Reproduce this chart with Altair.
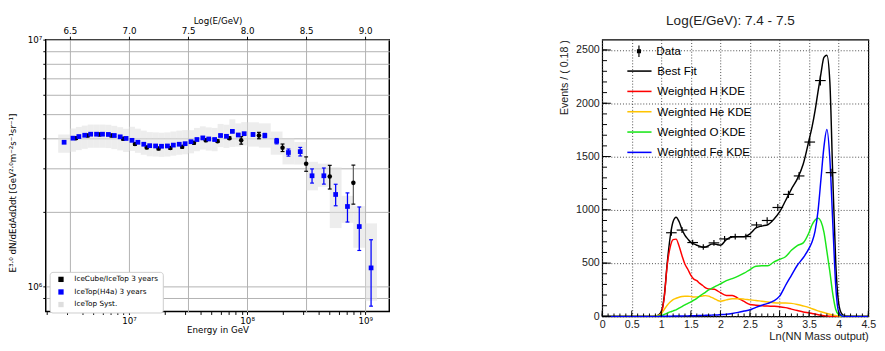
import altair as alt
import pandas as pd

# ================= LEFT PANEL: all-particle flux =================
blue_logE = [6.45, 6.525, 6.575, 6.625, 6.675, 6.725, 6.775, 6.825, 6.875, 6.925,
             6.975, 7.025, 7.075, 7.125, 7.175, 7.225, 7.275, 7.325, 7.375, 7.425,
             7.475, 7.525, 7.575, 7.625, 7.675, 7.725, 7.775, 7.825, 7.875, 7.925,
             7.975, 8.05, 8.15, 8.25, 8.35, 8.45, 8.55, 8.65, 8.75, 8.85, 8.95, 9.05]
blue_halfwidth = [0.05] + [0.025] * 30 + [0.05] * 11
blue_flux = [3.84e6, 3.99e6, 4.05e6, 4.10e6, 4.14e6, 4.14e6, 4.14e6, 4.13e6, 4.09e6, 4.04e6,
             3.98e6, 3.91e6, 3.84e6, 3.77e6, 3.72e6, 3.71e6, 3.70e6, 3.71e6, 3.74e6, 3.77e6,
             3.79e6, 3.86e6, 3.94e6, 4.00e6, 3.96e6, 3.94e6, 4.09e6, 4.06e6, 4.25e6, 4.11e6,
             4.16e6, 4.13e6, 4.09e6, 3.88e6, 3.49e6, 3.52e6, 2.81e6, 2.81e6, 2.36e6, 2.11e6,
             1.75e6, 1.19e6]
blue_stat = [0.01] * 31 + [0.015, 0.02, 0.025, 0.033, 0.04, 0.066, 0.075, 0.10, 0.135, 0.20, 0.30]
sys_up = ([0.075] + [0.094] * 10 + [0.135] * 10 +
          [0.114, 0.114, 0.114, 0.114, 0.114, 0.114, 0.114, 0.12, 0.114, 0.114] +
          [0.12, 0.12, 0.094, 0.142, 0.094, 0.139, 0.12, 0.288, 0.104, 0.209, 0.515])
sys_dn = ([0.094] + [0.119] * 10 + [0.094] * 10 +
          [0.103, 0.103, 0.103, 0.103, 0.103, 0.103, 0.103, 0.135, 0.103, 0.103] +
          [0.107, 0.107, 0.119, 0.105, 0.114, 0.127, 0.098, 0.269, 0.142, 0.180, 0.264])

black_logE = [6.55, 6.65, 6.75, 6.85, 6.95, 7.05, 7.15, 7.25, 7.35, 7.45,
              7.55, 7.65, 7.75, 7.85, 7.95, 8.1, 8.3, 8.5, 8.7, 8.9]
black_flux = [3.99e6, 4.09e6, 4.13e6, 4.09e6, 3.97e6, 3.78e6, 3.66e6, 3.62e6, 3.64e6, 3.68e6,
              3.82e6, 3.91e6, 3.88e6, 3.99e6, 3.91e6, 4.09e6, 3.65e6, 3.14e6, 2.79e6, 2.63e6]
black_stat = [0.012] * 14 + [0.035, 0.03, 0.035, 0.067, 0.11, 0.18]
black_bar_color = ["black"] * 17 + ["#666666", "black", "#666666"]

top_tick_logE = [6.5, 7.0, 7.5, 8.0, 8.5, 9.0]
x_tick_vals = [2e6, 3e6, 4e6, 5e6, 6e6, 7e6, 8e6, 9e6, 1e7,
               2e7, 3e7, 4e7, 5e7, 6e7, 7e7, 8e7, 9e7, 1e8,
               2e8, 3e8, 4e8, 5e8, 6e8, 7e8, 8e8, 9e8, 1e9]
y_tick_vals = [9e5, 1e6, 2e6, 3e6, 4e6, 5e6, 6e6, 7e6, 8e6, 9e6, 1e7]

LBL_BLACK = "IceCube/IceTop 3 years"
LBL_BLUE = "IceTop(H4a) 3 years"
LBL_SYST = "IceTop Syst."

# ================= RIGHT PANEL: KDE fit =================
curve_x = [0.0, 0.85, 0.95,
           1.0, 1.05, 1.1, 1.15, 1.2, 1.25, 1.3, 1.35, 1.4, 1.45, 1.5, 1.55, 1.6, 1.65, 1.7,
           1.75, 1.8, 1.85, 1.9, 1.95, 2.0,
           2.1, 2.2, 2.3, 2.4, 2.5, 2.6, 2.7, 2.8, 2.9, 3.0, 3.1, 3.2, 3.3, 3.4, 3.5,
           3.55, 3.6, 3.65, 3.7, 3.75, 3.8, 3.85, 3.9, 3.95, 4.0, 4.05, 4.1,
           4.5]
best_fit = [0, 0, 12,
            45, 190, 500, 745, 890, 930, 890, 815, 760, 725, 695, 680, 668, 658, 648,
            650, 665, 678, 680, 672, 668,
            720, 745, 748, 748, 775, 830, 848, 860, 910, 980, 1085, 1195, 1290, 1430, 1660,
            1780, 1930, 2110, 2280, 2430, 2450, 2200, 1300, 500, 120, 25, 5,
            0]
kde_h = [0, 0, 5,
         30, 180, 480, 650, 720, 725, 660, 570, 490, 440, 385, 350, 335, 310, 290,
         268, 258, 258, 255, 240, 222,
         197, 197, 170, 140, 112, 105, 100, 97, 95, 91, 82, 68, 55, 42, 33,
         28, 22, 16, 11, 7, 4, 2, 1, 0, 0, 0, 0,
         0]
kde_he = [0, 0, 8,
          25, 65, 105, 135, 158, 170, 180, 187, 190, 190, 186, 182, 183, 188, 192,
          195, 190, 178, 165, 150, 142,
          155, 165, 166, 162, 155, 150, 142, 135, 128, 125, 125, 122, 112, 98, 82,
          72, 62, 52, 44, 36, 28, 20, 14, 8, 3, 1, 0,
          0]
kde_o = [0, 0, 2,
         8, 18, 30, 42, 52, 62, 78, 92, 108, 122, 136, 152, 170, 190, 210,
         228, 248, 262, 278, 292, 305,
         335, 355, 378, 405, 440, 470, 475, 475, 510, 535, 560, 620, 665, 690, 790,
         860, 905, 922, 890, 790, 610, 420, 210, 65, 15, 3, 0,
         0]
kde_fe = [0, 0, 0,
          1, 1, 2, 2, 3, 3, 4, 4, 5, 5, 6, 7, 7, 8, 9,
          10, 11, 12, 13, 14, 16,
          20, 28, 38, 50, 62, 85, 105, 122, 145, 190, 290, 385, 480, 550, 640,
          700, 800, 990, 1290, 1590, 1755, 1480, 870, 280, 40, 5, 0,
          0]
comp_names = ["Best Fit", "Weighted H KDE", "Weighted He KDE", "Weighted O KDE", "Weighted Fe KDE"]
comp_colors = ["black", "#ff0000", "#ffc400", "#19e619", "#0000ff"]

data_x = [1.17, 1.35, 1.53, 1.71, 1.89, 2.07, 2.25, 2.43, 2.61, 2.79, 2.97, 3.15, 3.33, 3.51, 3.69, 3.87]
data_y = [785, 810, 693, 652, 690, 727, 749, 749, 858, 900, 1022, 1145, 1318, 1636, 2213, 1349]
data_err = [28, 28, 26, 26, 26, 27, 27, 27, 29, 30, 32, 34, 36, 40, 47, 37]
bin_width = 0.18

x_major_ticks = [0, 0.5, 1, 1.5, 2, 2.5, 3, 3.5, 4, 4.5]
y_major_ticks = [0, 500, 1000, 1500, 2000, 2500]
x_minor_ticks = [round(0.1 * i, 1) for i in range(46)]
y_minor_ticks = [100 * i for i in range(26)]

LF = "DejaVu Sans"
RF = "Liberation Sans"

# ---------------- build left ----------------
bdf = pd.DataFrame({"logE": blue_logE, "half": blue_halfwidth, "flux": blue_flux,
                    "stat": blue_stat, "su": sys_up, "sd": sys_dn})
bdf["E"] = 10 ** bdf["logE"]
bdf["E_lo"] = 10 ** (bdf["logE"] - bdf["half"])
bdf["E_hi"] = 10 ** (bdf["logE"] + bdf["half"])
bdf["lo"] = bdf["flux"] * (1 - bdf["stat"])
bdf["hi"] = bdf["flux"] * (1 + bdf["stat"])
bdf["sys_lo"] = bdf["flux"] * (1 - bdf["sd"])
bdf["sys_hi"] = bdf["flux"] * (1 + bdf["su"])
bdf["series"] = LBL_BLUE
bdf["syst"] = LBL_SYST

kdf = pd.DataFrame({"logE": black_logE, "flux": black_flux, "stat": black_stat,
                    "barcol": black_bar_color})
kdf["E"] = 10 ** kdf["logE"]
kdf["lo"] = kdf["flux"] * (1 - kdf["stat"])
kdf["hi"] = kdf["flux"] * (1 + kdf["stat"])
kdf["series"] = LBL_BLACK

W_L, H_L = 355, 281
xs_l = alt.Scale(type="log", domain=[1.97e6, 1.6e9], nice=False)
ys_l = alt.Scale(type="log", domain=[7.92e5, 1e7], nice=False)
cs_l = alt.Scale(domain=[LBL_BLACK, LBL_BLUE, LBL_SYST], range=["black", "blue", "#dedede"])

top_axis = alt.Axis(orient="top", values=[10 ** v for v in top_tick_logE],
                    labelExpr="format(log(datum.value)/LN10, '.1f')",
                    title="Log(E/GeV)", grid=True, gridColor="#b0b0b0", gridWidth=1,
                    tickSize=3.5, tickColor="black", domain=False, labelFlush=False,
                    labelFont=LF, labelFontSize=9, labelColor="black", labelPadding=1,
                    titleFont=LF, titleFontSize=9, titleFontWeight="normal",
                    titleColor="black", titlePadding=1)
bot_axis = alt.Axis(orient="bottom", values=x_tick_vals,
                    labelExpr="datum.value == 1e7 ? '10⁷' : datum.value == 1e8 ? '10⁸' : datum.value == 1e9 ? '10⁹' : ''",
                    title="Energy in GeV", grid=False, tickSize=3, tickColor="black",
                    domain=False, labelFlush=False, labelFont=LF, labelFontSize=9,
                    labelColor="black", labelPadding=2, titleFont=LF, titleFontSize=9,
                    titleFontWeight="normal", titleColor="black", titlePadding=1)
y_axis_l = alt.Axis(values=y_tick_vals,
                    labelExpr="datum.value == 1e6 ? '10⁶' : datum.value == 1e7 ? '10⁷' : ''",
                    title="E³·⁰ dN/dEdAdΩdt [GeV²·⁰m⁻²s⁻¹sr⁻¹]",
                    grid=True, gridColor="#b0b0b0", gridWidth=1, tickSize=3, tickColor="black",
                    domain=False, labelFont=LF, labelFontSize=9, labelColor="black",
                    labelPadding=1, titleFont=LF, titleFontSize=9, titleFontWeight="normal",
                    titleColor="black", titlePadding=10, titleY=158)
legend_l = alt.Legend(title=None, orient="none", legendX=4, legendY=240,
                      labelFont=LF, labelFontSize=7.5, labelColor="black",
                      symbolType="square", symbolSize=30, symbolOffset=4, labelOffset=10,
                      rowPadding=4, padding=4, fillColor="white", strokeColor="#cccccc",
                      cornerRadius=3, symbolOpacity=1)

base_b = alt.Chart(bdf)
base_k = alt.Chart(kdf)


def yl(field):
    return alt.Y(field, type="quantitative", scale=ys_l, axis=y_axis_l)


syst = base_b.mark_rect(opacity=0.55).encode(
    x=alt.X("E_lo:Q", scale=xs_l, axis=top_axis), x2="E_hi:Q",
    y=yl("sys_lo"), y2="sys_hi:Q",
    color=alt.Color("syst:N", scale=cs_l, legend=legend_l))

k_err = base_k.mark_rule(strokeWidth=1.3).encode(
    x=alt.X("E:Q", scale=xs_l, axis=None), y=yl("lo"), y2="hi:Q",
    color=alt.Color("barcol:N", scale=None))
k_cap_lo = base_k.mark_tick(orient="horizontal", size=4, thickness=1.2, color="black", opacity=1).encode(
    x=alt.X("E:Q", scale=xs_l, axis=None), y=yl("lo"))
k_cap_hi = base_k.mark_tick(orient="horizontal", size=4, thickness=1.2, color="black", opacity=1).encode(
    x=alt.X("E:Q", scale=xs_l, axis=None), y=yl("hi"))
k_pts = base_k.mark_circle(size=22, opacity=1).encode(
    x=alt.X("E:Q", scale=xs_l, axis=bot_axis), y=yl("flux"),
    color=alt.Color("series:N", scale=cs_l, legend=legend_l))

b_err = base_b.mark_rule(strokeWidth=1.3, color="blue").encode(
    x=alt.X("E:Q", scale=xs_l, axis=None), y=yl("lo"), y2="hi:Q")
b_cap_lo = base_b.mark_tick(orient="horizontal", size=4, thickness=1.2, color="blue", opacity=1).encode(
    x=alt.X("E:Q", scale=xs_l, axis=None), y=yl("lo"))
b_cap_hi = base_b.mark_tick(orient="horizontal", size=4, thickness=1.2, color="blue", opacity=1).encode(
    x=alt.X("E:Q", scale=xs_l, axis=None), y=yl("hi"))
b_pts = base_b.mark_square(size=24, opacity=1).encode(
    x=alt.X("E:Q", scale=xs_l, axis=None), y=yl("flux"),
    color=alt.Color("series:N", scale=cs_l, legend=legend_l))

left = alt.layer(syst, k_err, k_cap_lo, k_cap_hi, k_pts, b_err, b_cap_lo, b_cap_hi, b_pts).resolve_axis(
    x="independent").properties(width=W_L, height=H_L,
                                view=alt.ViewBackground(stroke="black", strokeWidth=1.5))

# ---------------- build right ----------------
rows = []
for name, ys in zip(comp_names, [best_fit, kde_h, kde_he, kde_o, kde_fe]):
    for xv, yv in zip(curve_x, ys):
        rows.append({"x": xv, "y": yv, "comp": name})
cdf = pd.DataFrame(rows)

ddf = pd.DataFrame({"x": data_x, "y": data_y, "err": data_err})
ddf["xlo"] = ddf["x"] - bin_width / 2
ddf["xhi"] = ddf["x"] + bin_width / 2
ddf["ylo"] = ddf["y"] - ddf["err"]
ddf["yhi"] = ddf["y"] + ddf["err"]
ddf["lab"] = "Data"

W_R, H_R = 275, 286
xs_r = alt.Scale(domain=[0, 4.5], nice=False, zero=False)
ys_r = alt.Scale(domain=[0, 2597], nice=False)

x_axis_r = alt.Axis(values=x_major_ticks, format="~g", title="Ln(NN Mass output)",
                    titleAnchor="end", ticks=False, domain=False, grid=True,
                    gridDash=[1, 2], gridColor="#444444", gridWidth=1, labelFlush=False,
                    labelFont=RF, labelFontSize=11, labelColor="#222222", labelPadding=3,
                    titleFont=RF, titleFontSize=11.5, titleFontWeight="normal",
                    titleColor="#222222", titlePadding=1)
y_axis_r = alt.Axis(values=y_major_ticks, format="d", title="Events / ( 0.18 )", titleAnchor="end",
                    ticks=False, domain=False, grid=True, gridDash=[1, 2],
                    gridColor="#444444", gridWidth=1,
                    labelFont=RF, labelFontSize=11, labelColor="#222222", labelPadding=3,
                    titleFont=RF, titleFontSize=11, titleFontWeight="normal",
                    titleColor="#222222", titlePadding=6)


def xr(field):
    return alt.X(field, type="quantitative", scale=xs_r, axis=x_axis_r)


def yr(field):
    return alt.Y(field, type="quantitative", scale=ys_r, axis=y_axis_r)


cs_r = alt.Scale(domain=comp_names, range=comp_colors)
legend_lines = alt.Legend(title=None, orient="none", legendX=25, legendY=19,
                          symbolType="stroke", symbolSize=625, symbolStrokeWidth=1.6,
                          labelFont=RF, labelFontSize=12, labelColor="black",
                          labelOffset=5, rowPadding=1, padding=0)
legend_data = alt.Legend(title=None, orient="none", legendX=31, legendY=5,
                         symbolType="M0,-1L0,1M-0.25,-0.25L0.25,-0.25L0.25,0.25L-0.25,0.25Z",
                         symbolSize=144, symbolStrokeWidth=1.2, symbolFillColor="black",
                         symbolStrokeColor="black",
                         labelFont=RF, labelFontSize=12, labelColor="black",
                         labelOffset=11, padding=0)

lines = alt.Chart(cdf).mark_line(strokeWidth=1.5, interpolate="monotone").encode(
    x=xr("x"), y=yr("y"),
    color=alt.Color("comp:N", scale=cs_r, legend=legend_lines, sort=comp_names))

d_h = alt.Chart(ddf).mark_rule(strokeWidth=1.2, color="black").encode(
    x=xr("xlo"), x2="xhi:Q", y=yr("y"))
d_v = alt.Chart(ddf).mark_rule(strokeWidth=1.2).encode(
    x=xr("x"), y=yr("ylo"), y2="yhi:Q",
    color=alt.Color("lab:N", scale=alt.Scale(domain=["Data"], range=["black"]), legend=legend_data))

xmin_df = pd.DataFrame({"t": x_minor_ticks})
xmaj_df = pd.DataFrame({"t": x_major_ticks})
ymin_df = pd.DataFrame({"t": y_minor_ticks})
ymaj_df = pd.DataFrame({"t": y_major_ticks})
tick_xmin = alt.Chart(xmin_df).mark_rule(color="black", strokeWidth=1).encode(
    x=xr("t"), y=alt.value(H_R), y2=alt.value(H_R - 3))
tick_xmaj = alt.Chart(xmaj_df).mark_rule(color="black", strokeWidth=1).encode(
    x=xr("t"), y=alt.value(H_R), y2=alt.value(H_R - 6))
tick_ymin = alt.Chart(ymin_df).mark_rule(color="black", strokeWidth=1).encode(
    y=yr("t"), x=alt.value(0), x2=alt.value(5))
tick_ymaj = alt.Chart(ymaj_df).mark_rule(color="black", strokeWidth=1).encode(
    y=yr("t"), x=alt.value(0), x2=alt.value(9))

right = alt.layer(lines, d_h, d_v, tick_xmin, tick_xmaj, tick_ymin, tick_ymaj).resolve_scale(
    color="independent").properties(
    width=W_R, height=H_R,
    title=alt.TitleParams("Log(E/GeV): 7.4 - 7.5", font=RF, fontSize=14, fontWeight="normal",
                          color="#222222", anchor="middle", dx=-5, offset=12),
    view=alt.ViewBackground(stroke="black", strokeWidth=1.2))

chart = alt.hconcat(left, right, spacing=173).properties(padding=0).configure_view(stroke=None)

chart.save("out.html", embed_options={"renderer": "svg", "actions": False})
